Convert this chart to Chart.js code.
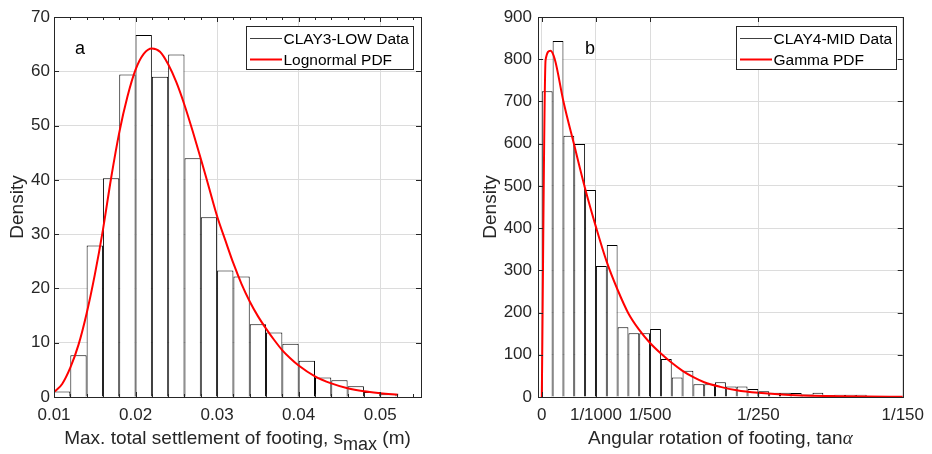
<!DOCTYPE html>
<html>
<head>
<meta charset="utf-8">
<script src="https://cdn.jsdelivr.net/npm/chart.js@4.4.1/dist/chart.umd.min.js"></script>
<style>
  html, body { margin: 0; padding: 0; background: #fff; }
  #wrap { position: relative; width: 932px; height: 454px; }
  canvas { position: absolute; top: 0; }
  #chartA { left: 0; }
  #chartB { left: 466px; }
</style>
</head>
<body>
<div id="wrap">
  <canvas id="chartA" width="466" height="454"></canvas>
  <canvas id="chartB" width="466" height="454"></canvas>
</div>
<script>
const FONT = '"Liberation Sans", Arial, Helvetica, sans-serif';

// panel a - CLAY3-LOW, max settlement (bins 0.002 m wide)
const settleBins = [0.011, 0.013, 0.015, 0.017, 0.019, 0.021, 0.023, 0.025, 0.027, 0.029, 0.031,
                    0.033, 0.035, 0.037, 0.039, 0.041, 0.043, 0.045, 0.047, 0.049, 0.051];
const settleDensity = [1.0, 7.7, 27.9, 40.3, 59.4, 66.7, 59.0, 63.1, 44.0, 33.1, 23.3,
                       22.2, 13.4, 11.9, 9.8, 6.7, 3.6, 3.1, 2.0, 0.9, 0.5];
const settlePdfX = [0.0101, 0.011, 0.012, 0.013, 0.014, 0.015, 0.016, 0.017, 0.018, 0.019, 0.020,
                    0.021, 0.022, 0.023, 0.024, 0.025, 0.026, 0.027, 0.028, 0.029, 0.030, 0.031,
                    0.032, 0.033, 0.034, 0.035, 0.036, 0.037, 0.038, 0.039, 0.040, 0.042, 0.044,
                    0.046, 0.048, 0.050, 0.0522];
const settlePdfY = [1.0, 2.4, 5.4, 9.6, 15.4, 22.5, 30.8, 40.3, 48.7, 55.3, 60.3,
                    63.2, 64.2, 63.6, 61.3, 58.0, 53.8, 49.0, 43.9, 38.6, 33.3, 28.9,
                    24.6, 20.8, 17.6, 14.9, 12.6, 10.5, 8.6, 7.1, 5.8, 3.8, 2.5,
                    1.6, 1.05, 0.7, 0.4];
const settleTicks = [0.01, 0.02, 0.03, 0.04, 0.05];
const settleTickLabels = ['0.01', '0.02', '0.03', '0.04', '0.05'];
const settleMinorTicks = [0.012, 0.014, 0.016, 0.018, 0.022, 0.024, 0.026, 0.028, 0.032, 0.034,
                          0.036, 0.038, 0.042, 0.044, 0.046, 0.048, 0.052, 0.054];

// panel b - CLAY4-MID, angular rotation (bins 0.0002 wide)
const rotBins = [0.0001, 0.0003, 0.0005, 0.0007, 0.0009, 0.0011, 0.0013, 0.0015, 0.0017, 0.0019,
                 0.0021, 0.0023, 0.0025, 0.0027, 0.0029, 0.0031, 0.0033, 0.0035, 0.0037, 0.0039,
                 0.0041, 0.0043, 0.0045, 0.0047, 0.0049, 0.0051, 0.0053, 0.0055, 0.0057, 0.0059,
                 0.0061, 0.0063, 0.0065];
const rotDensity = [724, 843, 619, 599, 490, 310, 360, 165, 151, 151,
                    161, 90, 46, 62, 30, 30, 35, 25, 25, 19,
                    13.5, 10, 10, 9.5, 6, 10, 4, 5.5, 5.5, 5.5,
                    1.5, 1, 0.5];
const rotPdfX = [0, 0.00007, 0.00016, 0.00024, 0.0004, 0.0006, 0.0008, 0.001, 0.0012, 0.0014,
                 0.0016, 0.0018, 0.002, 0.0022, 0.0024, 0.0026, 0.0028, 0.003, 0.0033, 0.0036,
                 0.004, 0.0045, 0.005, 0.0055, 0.006, 0.00667];
const rotPdfY = [0, 798, 820, 800, 700, 596, 494, 403, 320, 254,
                 198, 159, 128, 103, 81, 62, 47, 35, 24, 16,
                 9.8, 5.1, 2.9, 1.7, 1, 0.5];
const rotTicks = [0, 0.001, 0.002, 0.004, 1 / 150];
const rotTickLabels = ['0', '1/1000', '1/500', '1/250', '1/150'];

// box + inward ticks, drawn over the bars like matlab does
const frame = {
  id: 'frame',
  afterDatasetsDraw(chart, args, o) {
    const { ctx, chartArea: a, scales: { x, y } } = chart;
    ctx.save();
    ctx.strokeStyle = '#262626';
    ctx.lineWidth = 1;
    ctx.beginPath();
    const vTick = (v, len) => {
      const px = Math.round(x.getPixelForValue(v)) + 0.5;
      ctx.moveTo(px, a.bottom); ctx.lineTo(px, a.bottom - len);
      ctx.moveTo(px, a.top); ctx.lineTo(px, a.top + len);
    };
    x.ticks.forEach(t => vTick(t.value, 5));
    (o.minor || []).forEach(v => vTick(v, 3));
    y.ticks.forEach(t => {
      const py = Math.round(y.getPixelForValue(t.value)) + 0.5;
      ctx.moveTo(a.left, py); ctx.lineTo(a.left + 5, py);
      ctx.moveTo(a.right, py); ctx.lineTo(a.right - 5, py);
    });
    ctx.stroke();
    ctx.strokeRect(Math.round(a.left) + 0.5, Math.round(a.top) + 0.5,
                   Math.round(a.right - a.left), Math.round(a.bottom - a.top));
    ctx.restore();
  }
};

// legend box, panel letter, axis titles
const decor = {
  id: 'decor',
  afterDraw(chart, args, o) {
    const { ctx, chartArea: a } = chart;
    ctx.save();

    const L = o.legend;
    ctx.fillStyle = '#fff';
    ctx.fillRect(L.x, L.y, L.w, L.h);
    ctx.strokeStyle = '#262626';
    ctx.lineWidth = 1;
    ctx.strokeRect(L.x + 0.5, L.y + 0.5, L.w, L.h);
    L.items.forEach((it, i) => {
      const cy = L.y + 12.5 + i * 21;
      ctx.strokeStyle = it.color;
      ctx.lineWidth = it.width;
      ctx.beginPath();
      ctx.moveTo(L.x + 4, cy);
      ctx.lineTo(L.x + 36, cy);
      ctx.stroke();
      ctx.fillStyle = '#000';
      ctx.font = '15.5px ' + FONT;
      ctx.textBaseline = 'alphabetic';
      ctx.textAlign = 'left';
      ctx.fillText(chart.data.datasets[it.ds].label, L.x + 37.5, cy + 5.7);
    });

    ctx.fillStyle = '#000';
    ctx.font = '18px ' + FONT;
    ctx.fillText(o.panel.text, o.panel.x, o.panel.y);

    // x title, pieces may be subscript or greek
    ctx.fillStyle = '#262626';
    const fontOf = p => p.greek ? 'italic 19px "Liberation Serif", "DejaVu Serif", serif'
                               : (p.sub ? '18px ' : '19px ') + FONT;
    let total = 0;
    o.xTitle.forEach(p => { ctx.font = fontOf(p); total += ctx.measureText(p.t).width; });
    let cx = (a.left + a.right) / 2 - total / 2;
    o.xTitle.forEach(p => {
      ctx.font = fontOf(p);
      ctx.fillText(p.t, cx, 444 + (p.sub ? 6 : 0));
      cx += ctx.measureText(p.t).width;
    });

    ctx.translate(o.yTitleX, (a.top + a.bottom) / 2);
    ctx.rotate(-Math.PI / 2);
    ctx.font = '19px ' + FONT;
    ctx.textAlign = 'center';
    ctx.fillText('Density', 0, 0);
    ctx.restore();
  }
};

function makeChart(id, c) {
  const tickFont = { family: FONT, size: 17 };
  return new Chart(document.getElementById(id), {
    type: 'bar',
    data: {
      datasets: [
        {
          type: 'line', label: c.pdfLabel, order: 0,
          data: c.pdfX.map((x, i) => ({ x, y: c.pdfY[i] })),
          borderColor: '#ff0000', borderWidth: 2, pointRadius: 0,
          cubicInterpolationMode: 'monotone', fill: false
        },
        {
          type: 'bar', label: c.dataLabel, order: 1,
          data: c.bins.map((x, i) => ({ x, y: c.density[i] })),
          backgroundColor: '#ffffff', borderColor: '#000000', borderWidth: 1,
          barPercentage: 1, categoryPercentage: 1, inflateAmount: 0
        }
      ]
    },
    options: {
      responsive: false,
      animation: false,
      devicePixelRatio: 1,
      layout: { padding: { left: 0, right: c.padRight, top: 17, bottom: 0 } },
      plugins: {
        legend: { display: false },
        tooltip: { enabled: false },
        frame: { minor: c.minor },
        decor: c.decor
      },
      scales: {
        x: {
          type: 'linear', offset: false, min: c.xMin, max: c.xMax,
          afterBuildTicks: s => { s.ticks = c.xTicks.map(v => ({ value: v })); },
          afterFit: s => { s.height = 57; },
          grid: { color: '#dcdcdc', drawTicks: false, offset: false },
          border: { display: false },
          ticks: {
            autoSkip: false, maxRotation: 0, padding: 8, color: '#262626', font: tickFont,
            callback: (v, i) => c.xTickLabels[i]
          }
        },
        y: {
          min: 0, max: c.yMax,
          afterFit: s => { s.width = c.yAxisWidth; },
          grid: { color: '#dcdcdc', drawTicks: false },
          border: { display: false },
          ticks: { stepSize: c.yStep, padding: c.yPad, color: '#262626', font: tickFont }
        }
      }
    },
    plugins: [frame, decor]
  });
}

makeChart('chartA', {
  bins: settleBins, density: settleDensity, pdfX: settlePdfX, pdfY: settlePdfY,
  dataLabel: 'CLAY3-LOW Data', pdfLabel: 'Lognormal PDF',
  xMin: 0.01, xMax: 0.055, xTicks: settleTicks, xTickLabels: settleTickLabels, minor: settleMinorTicks,
  yMax: 70, yStep: 10, yAxisWidth: 54, yPad: 4, padRight: 45,
  decor: {
    legend: { x: 246, y: 26, w: 167, h: 43,
              items: [{ ds: 1, color: '#404040', width: 1 }, { ds: 0, color: '#ff0000', width: 2 }] },
    panel: { text: 'a', x: 75, y: 53.5 },
    xTitle: [{ t: 'Max. total settlement of footing, s' }, { t: 'max', sub: true }, { t: ' (m)' }],
    yTitleX: 23
  }
});

makeChart('chartB', {
  bins: rotBins, density: rotDensity, pdfX: rotPdfX, pdfY: rotPdfY,
  dataLabel: 'CLAY4-MID Data', pdfLabel: 'Gamma PDF',
  xMin: -0.00007, xMax: 1 / 150, xTicks: rotTicks, xTickLabels: rotTickLabels, minor: [],
  yMax: 900, yStep: 100, yAxisWidth: 72, yPad: 6, padRight: 28,
  decor: {
    legend: { x: 270, y: 26, w: 160, h: 43,
              items: [{ ds: 1, color: '#404040', width: 1 }, { ds: 0, color: '#ff0000', width: 2 }] },
    panel: { text: 'b', x: 119, y: 53.5 },
    xTitle: [{ t: 'Angular rotation of footing, tan' }, { t: '\u03b1', greek: true }],
    yTitleX: 30
  }
});
</script>
</body>
</html>
